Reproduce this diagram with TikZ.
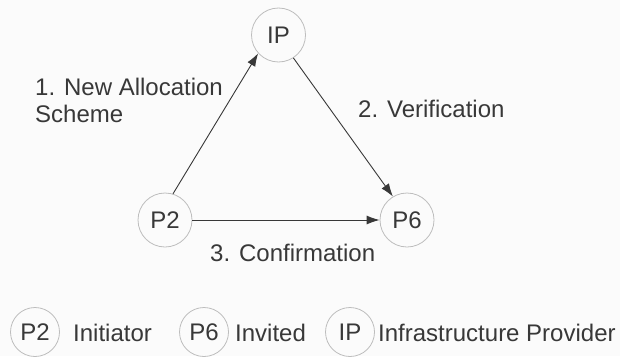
\documentclass[tikz,border=0pt]{standalone}
\usepackage{fontspec}
\setmainfont{Liberation Sans}
\usetikzlibrary{arrows.meta}
\definecolor{ink}{HTML}{383838}
\definecolor{ring}{HTML}{BDBDBD}
\definecolor{paper}{HTML}{FBFBFB}
\begin{document}
\begin{tikzpicture}[x=1pt,y=-1pt,
  font=\fontsize{24}{29}\selectfont, text=ink,
  party/.style={circle, draw=ring, line width=0.8pt, minimum size=54pt, inner sep=0pt},
  keyparty/.style={circle, draw=ring, line width=0.8pt, minimum size=49pt, inner sep=0pt},
  msg/.style={draw=ink, line width=0.9pt, -{Latex[length=13pt,width=9pt]}},
  lbl/.style={anchor=base west, inner sep=0pt}]
  \fill[paper] (0,0) rectangle (620,356);
  \useasboundingbox (0,0) rectangle (620,356);

  % parties
  \node[party] (ip) at (278.5,35) {IP};
  \node[party] (p2) at (165,220) {P2};
  \node[party] (p6) at (407,220) {P6};

  % messages
  \draw[msg] (p2.73) -- (ip.222);
  \draw[msg] (ip.-57) -- (p6.121);
  \draw[msg] (p2.east) -- (p6.west);

  % message labels
  \node[lbl] (l1) at (35,95) {1. New Allocation};
  \node[lbl] (l1b) at (35,122) {Scheme};
  \node[lbl] (l2) at (358,117) {2. Verification};
  \node[lbl] (l3) at (210,261) {3. Confirmation};

  % legend
  \node[keyparty] (k2) at (35,332) {P2};
  \node[lbl] (t2) at (73,341) {Initiator};
  \node[keyparty] (k6) at (204,332) {P6};
  \node[lbl] (t6) at (235,341) {Invited};
  \node[keyparty] (kip) at (350,332) {IP};
  \node[lbl] (tip) at (378,341) {Infrastructure Provider};
\end{tikzpicture}
\end{document}
